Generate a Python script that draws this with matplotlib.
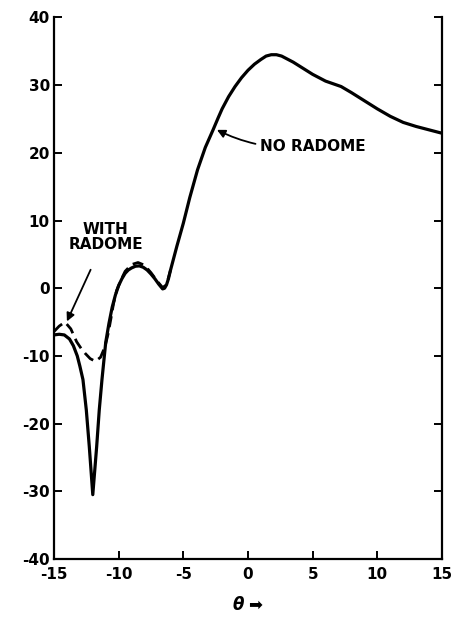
import matplotlib
matplotlib.use("Agg")
import matplotlib.pyplot as plt
from matplotlib.ticker import FixedLocator

# --- data ---
# no radome (solid)
theta_no = [-15, -14.6, -14.2, -13.8, -13.5, -13.2, -13.0, -12.76, -12.5, -12.27,
            -12.0, -11.7, -11.5, -11.29, -11.0, -10.75, -10.5, -10.25, -10.0, -9.75,
            -9.5, -9.25, -9.0, -8.7, -8.4, -8.1, -7.8, -7.5, -7.2, -6.9,
            -6.6, -6.45, -6.3, -6.15, -6.0, -5.5, -5.0, -4.5, -3.9, -3.3,
            -2.7, -2.3, -2.0, -1.5, -1.0, -0.5, 0.0, 0.5, 1.0, 1.4,
            1.8, 2.2, 2.6, 3.0, 3.5, 4.0, 5.0, 6.0, 6.6, 7.2,
            8.0, 9.0, 10.0, 11.0, 12.0, 13.0, 14.0, 15.0]
gain_no = [-6.9, -6.8, -6.9, -7.5, -8.5, -10.0, -11.5, -13.5, -18.0, -23.4,
           -30.5, -23.4, -18.0, -13.5, -8.0, -5.2, -2.8, -1.0, 0.4, 1.4,
           2.2, 2.7, 3.0, 3.25, 3.3, 3.1, 2.7, 2.1, 1.4, 0.6,
           -0.1, 0.0, 0.5, 1.4, 2.6, 6.2, 9.6, 13.4, 17.5, 20.8,
           23.4, 25.2, 26.5, 28.3, 29.8, 31.1, 32.2, 33.1, 33.8, 34.3,
           34.5, 34.5, 34.3, 33.9, 33.4, 32.8, 31.6, 30.6, 30.2, 29.8,
           28.9, 27.7, 26.5, 25.4, 24.5, 23.9, 23.4, 22.9]

# with radome (dashed), only visible apart from solid on the left
theta_with = [-15, -14.6, -14.15, -13.7, -13.25, -12.9, -12.6, -12.2, -11.8, -11.4,
              -11.05, -10.8, -10.6, -10.4, -10.15, -9.8, -9.5, -9.0, -8.5, -8.0,
              -7.5, -7.0, -6.6, -6.3, -6.0]
gain_with = [-6.4, -5.6, -5.0, -6.0, -7.9, -8.9, -9.6, -10.4, -10.8, -10.2,
             -8.6, -6.6, -4.5, -2.3, -0.3, 1.3, 2.5, 3.5, 3.8, 3.4,
             2.3, 1.0, 0.1, 0.5, 2.6]

xticks = [-15, -10, -5, 0, 5, 10, 15]
yticks = [-40, -30, -20, -10, 0, 10, 20, 30, 40]

plt.rcParams['font.family'] = ['DejaVu Sans']
plt.rcParams['font.weight'] = 'bold'

fig = plt.figure(figsize=(4.51, 6.18), dpi=100)
ax = fig.add_axes([0.1197, 0.0955, 0.8603, 0.8762])

ax.plot(theta_no, gain_no, color='black', lw=2.3, solid_joinstyle='round')
ax.plot(theta_with, gain_with, color='black', lw=2.0, dashes=(4, 2.2))

ax.set_xlim(-15, 15)
ax.set_ylim(-40, 40)
ax.xaxis.set_major_locator(FixedLocator(xticks))
ax.yaxis.set_major_locator(FixedLocator(yticks))
ax.set_xticklabels([str(t) for t in xticks], fontsize=11, fontweight='bold')
ax.set_yticklabels([str(t) for t in yticks], fontsize=11, fontweight='bold')

ax.spines['top'].set_visible(False)
for s in ['left', 'bottom', 'right']:
    ax.spines[s].set_linewidth(1.6)
ax.tick_params(direction='in', length=6, width=1.4, right=True, top=False)
ax.tick_params(axis='x', pad=6)
ax.tick_params(axis='y', pad=3)

ax.set_xlabel(r"$\theta$ ➡", fontsize=12, labelpad=10)

# labels with arrows
ax.annotate("WITH\nRADOME", xy=(-14.0, -4.9), xytext=(-11.0, 7.6),
            ha='center', va='center', fontsize=11, fontweight='bold',
            linespacing=1.0,
            arrowprops=dict(arrowstyle='-|>', color='black', lw=1.3,
                            shrinkA=12, shrinkB=0, mutation_scale=12))
ax.annotate("NO RADOME", xy=(-2.4, 23.4), xytext=(0.9, 20.9),
            ha='left', va='center', fontsize=11, fontweight='bold',
            arrowprops=dict(arrowstyle='-|>', color='black', lw=1.3,
                            shrinkA=1, shrinkB=0, mutation_scale=12,
                            connectionstyle='arc3,rad=-0.15'))

plt.savefig("out.png", dpi=100)
